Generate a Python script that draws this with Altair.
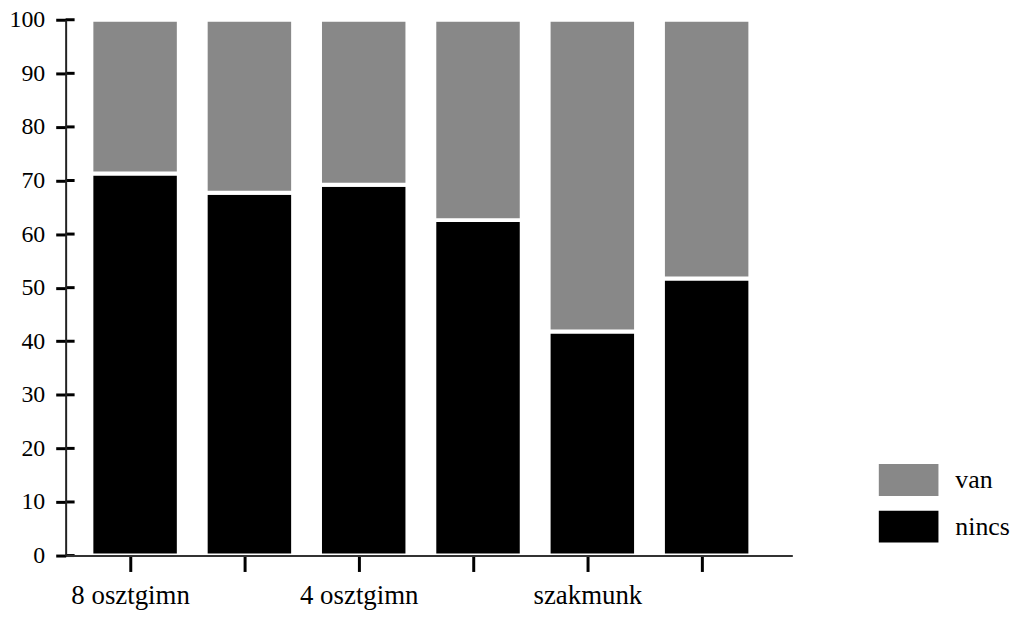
import altair as alt
import pandas as pd

categories = ["8 osztgimn", "kat2", "4 osztgimn", "kat4", "szakmunk", "kat6"]
shown_labels = ["8 osztgimn", "4 osztgimn", "szakmunk"]
series = ["van", "nincs"]
nincs = [71.3, 67.7, 69.2, 62.6, 41.8, 51.7]
van = [28.7, 32.3, 30.8, 37.4, 58.2, 48.3]
y_ticks = [0, 10, 20, 30, 40, 50, 60, 70, 80, 90, 100]

rows = []
for c, n, v in zip(categories, nincs, van):
    rows.append({"cat": c, "series": "nincs", "value": n, "ord": 0})
    rows.append({"cat": c, "series": "van", "value": v, "ord": 1})
df = pd.DataFrame(rows)

label_list = ",".join("'" + s + "'" for s in shown_labels)

bars = alt.Chart(df).mark_bar(stroke="white", strokeWidth=4).encode(
    x=alt.X(
        "cat:N",
        sort=categories,
        scale=alt.Scale(paddingInner=0.235, paddingOuter=0.296, align=0.38),
        axis=alt.Axis(
            title=None,
            labelAngle=0,
            labelExpr=f"indexof([{label_list}], datum.value) >= 0 ? datum.value : ''",
            labelFont="Liberation Serif",
            labelFontSize=27,
            labelColor="black",
            labelPadding=11,
            tickSize=16,
            tickWidth=3,
            tickColor="black",
            tickOffset=-5,
            domainWidth=2,
            domainColor="#333333",
            grid=False,
            zindex=1,
        ),
    ),
    y=alt.Y(
        "value:Q",
        stack="zero",
        scale=alt.Scale(domain=[0, 100], nice=False),
        axis=alt.Axis(
            title=None,
            values=y_ticks,
            labelFont="Liberation Serif",
            labelFontSize=24,
            labelColor="black",
            labelPadding=11,
            tickSize=10,
            tickWidth=3,
            tickColor="black",
            domainWidth=2,
            domainColor="#222222",
            grid=False,
            zindex=1,
        ),
    ),
    color=alt.Color(
        "series:N",
        scale=alt.Scale(domain=series, range=["#888888", "#000000"]),
        legend=alt.Legend(
            title=None,
            orient="none",
            legendX=818,
            legendY=433,
            symbolType="M-1,-0.533H1V0.533H-1Z",
            symbolSize=3600,
            symbolStrokeWidth=0,
            symbolOpacity=1,
            labelFont="Liberation Serif",
            labelFontSize=26,
            labelColor="black",
            labelOffset=17,
            padding=0,
            rowPadding=1,
            labelLimit=200,
        ),
    ),
    order=alt.Order("ord:Q"),
)

inner_ticks = alt.Chart(pd.DataFrame({"t": y_ticks})).mark_rule(
    color="black", strokeWidth=3
).encode(
    y=alt.Y("t:Q"),
    x=alt.value(0),
    x2=alt.value(9),
)

chart = alt.layer(bars, inner_ticks).properties(
    width=731,
    height=539,
    autosize=alt.AutoSizeParams(type="none"),
    padding={"left": 58, "top": 10, "right": 224, "bottom": 60},
    background="white",
).configure_view(stroke=None)

chart.save("out.html", embed_options={"renderer": "svg", "actions": False})
